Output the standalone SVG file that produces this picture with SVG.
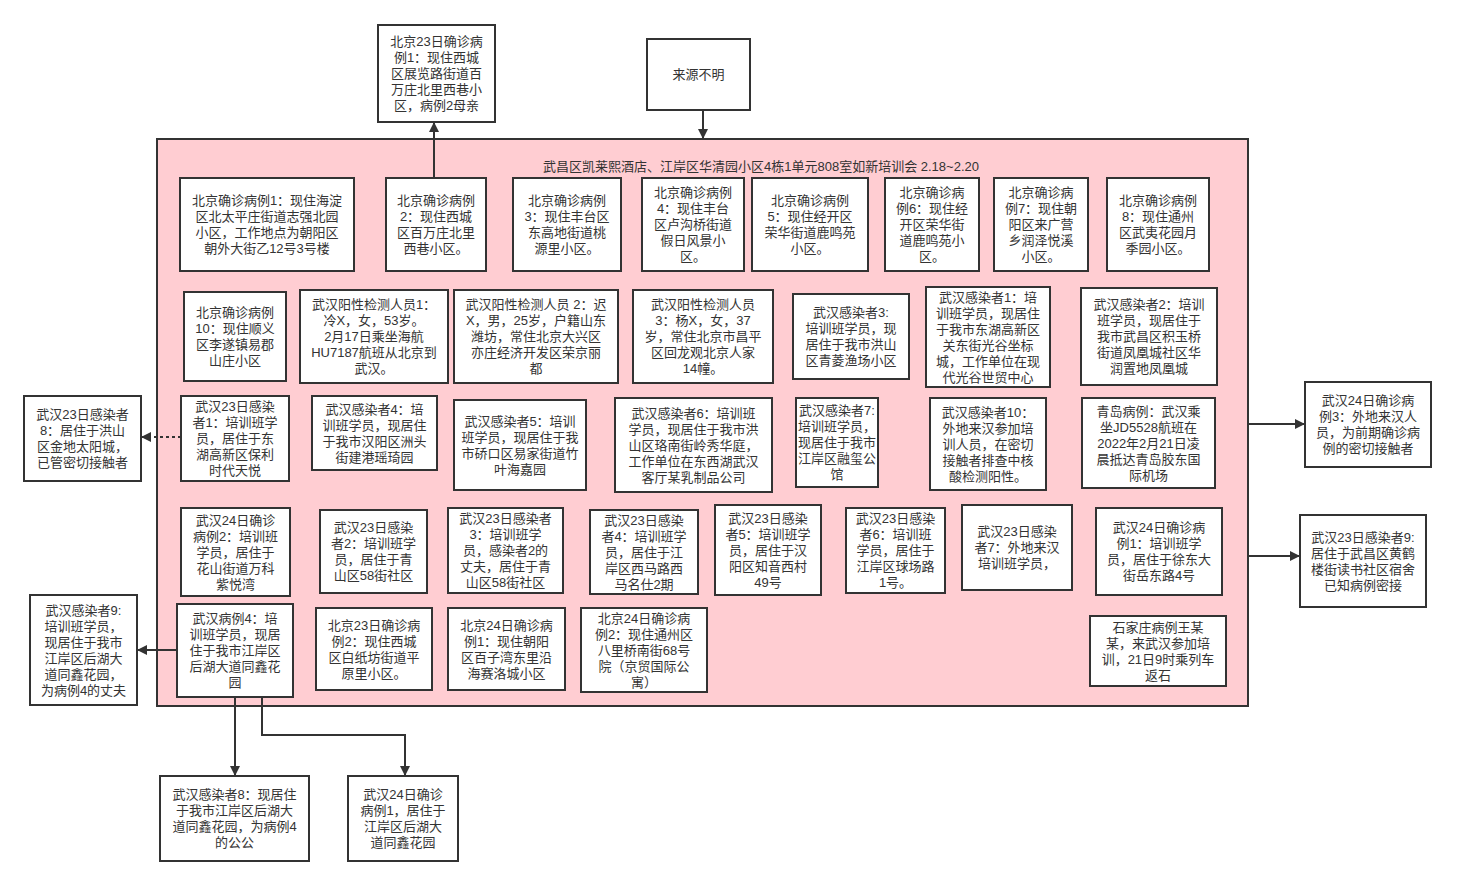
<svg xmlns="http://www.w3.org/2000/svg" width="1460" height="885" viewBox="0 0 1460 885">
<defs>
<style>
.b{fill:#fff;stroke:#333;stroke-width:2}
.c{fill:#FFCDD2;stroke:#333;stroke-width:2}
text{font-family:"Liberation Sans","Noto Sans CJK SC",sans-serif;font-size:13px;fill:#333;text-anchor:middle}
.t{text-anchor:start}
.e{fill:none;stroke:#333;stroke-width:2}
.d{stroke-dasharray:3 3}
</style>
<marker id="ah" viewBox="0 0 10 10" refX="9" refY="5" markerWidth="5" markerHeight="5" orient="auto" markerUnits="strokeWidth">
<path d="M0,0 L10,5 L0,10 Z" fill="#333"/>
</marker>
</defs>
<rect width="1460" height="885" fill="#fff"/>

<g id="container">
<rect class="c" x="157" y="139" width="1091" height="567"/>
<text class="t" x="543" y="171">武昌区凯莱熙酒店、江岸区华清园小区4栋1单元808室如新培训会 2.18~2.20</text>
</g>

<g id="connectors">
<line class="e" x1="434" y1="178" x2="434" y2="123" marker-end="url(#ah)"/>
<line class="e" x1="703" y1="110" x2="703" y2="138" marker-end="url(#ah)"/>
<line class="e d" x1="181" y1="437" x2="142" y2="437" marker-end="url(#ah)"/>
<line class="e" x1="1248" y1="424" x2="1304" y2="424" marker-end="url(#ah)"/>
<line class="e" x1="1248" y1="556" x2="1299" y2="556" marker-end="url(#ah)"/>
<line class="e" x1="177" y1="650" x2="138" y2="650" marker-end="url(#ah)"/>
<line class="e" x1="235" y1="697" x2="235" y2="775" marker-end="url(#ah)"/>
<polyline class="e" points="262,697 262,735 405,735 405,775" marker-end="url(#ah)"/>
</g>

<g id="t1"><rect class="b" x="378" y="25" width="117" height="97"/>
<text x="436.5" y="46"><tspan x="436.5">北京23日确诊病</tspan><tspan x="436.5" dy="16">例1：现住西城</tspan><tspan x="436.5" dy="16">区展览路街道百</tspan><tspan x="436.5" dy="16">万庄北里西巷小</tspan><tspan x="436.5" dy="16">区，病例2母亲</tspan></text></g>

<g id="t2"><rect class="b" x="647" y="39" width="103" height="71"/>
<text x="698.5" y="79">来源不明</text></g>

<g id="r1b1"><rect class="b" x="180" y="178" width="174" height="93"/>
<text x="267" y="205"><tspan x="267">北京确诊病例1：现住海淀</tspan><tspan x="267" dy="16">区北太平庄街道志强北园</tspan><tspan x="267" dy="16">小区，工作地点为朝阳区</tspan><tspan x="267" dy="16">朝外大街乙12号3号楼</tspan></text></g>

<g id="r1b2"><rect class="b" x="386" y="178" width="100" height="93"/>
<text x="436" y="205"><tspan x="436">北京确诊病例</tspan><tspan x="436" dy="16">2：现住西城</tspan><tspan x="436" dy="16">区百万庄北里</tspan><tspan x="436" dy="16">西巷小区。</tspan></text></g>

<g id="r1b3"><rect class="b" x="513" y="178" width="108" height="93"/>
<text x="567" y="205"><tspan x="567">北京确诊病例</tspan><tspan x="567" dy="16">3：现住丰台区</tspan><tspan x="567" dy="16">东高地街道桃</tspan><tspan x="567" dy="16">源里小区。</tspan></text></g>

<g id="r1b4"><rect class="b" x="642" y="178" width="102" height="93"/>
<text x="693" y="197"><tspan x="693">北京确诊病例</tspan><tspan x="693" dy="16">4：现住丰台</tspan><tspan x="693" dy="16">区卢沟桥街道</tspan><tspan x="693" dy="16">假日风景小</tspan><tspan x="693" dy="16">区。</tspan></text></g>

<g id="r1b5"><rect class="b" x="752" y="178" width="116" height="93"/>
<text x="810" y="205"><tspan x="810">北京确诊病例</tspan><tspan x="810" dy="16">5：现住经开区</tspan><tspan x="810" dy="16">荣华街道鹿鸣苑</tspan><tspan x="810" dy="16">小区。</tspan></text></g>

<g id="r1b6"><rect class="b" x="885" y="178" width="94" height="93"/>
<text x="932" y="197"><tspan x="932">北京确诊病</tspan><tspan x="932" dy="16">例6：现住经</tspan><tspan x="932" dy="16">开区荣华街</tspan><tspan x="932" dy="16">道鹿鸣苑小</tspan><tspan x="932" dy="16">区。</tspan></text></g>

<g id="r1b7"><rect class="b" x="994" y="178" width="94" height="93"/>
<text x="1041" y="197"><tspan x="1041">北京确诊病</tspan><tspan x="1041" dy="16">例7：现住朝</tspan><tspan x="1041" dy="16">阳区来广营</tspan><tspan x="1041" dy="16">乡润泽悦溪</tspan><tspan x="1041" dy="16">小区。</tspan></text></g>

<g id="r1b8"><rect class="b" x="1107" y="178" width="102" height="93"/>
<text x="1158" y="205"><tspan x="1158">北京确诊病例</tspan><tspan x="1158" dy="16">8：现住通州</tspan><tspan x="1158" dy="16">区武夷花园月</tspan><tspan x="1158" dy="16">季园小区。</tspan></text></g>

<g id="r2b1"><rect class="b" x="184" y="292" width="102" height="89"/>
<text x="235" y="317"><tspan x="235">北京确诊病例</tspan><tspan x="235" dy="16">10：现住顺义</tspan><tspan x="235" dy="16">区李遂镇易郡</tspan><tspan x="235" dy="16">山庄小区</tspan></text></g>

<g id="r2b2"><rect class="b" x="300" y="290" width="148" height="93"/>
<text x="374" y="309"><tspan x="374">武汉阳性检测人员1：</tspan><tspan x="374" dy="16">冷X，女，53岁。</tspan><tspan x="374" dy="16">2月17日乘坐海航</tspan><tspan x="374" dy="16">HU7187航班从北京到</tspan><tspan x="374" dy="16">武汉。</tspan></text></g>

<g id="r2b3"><rect class="b" x="454" y="290" width="164" height="93"/>
<text x="536" y="309"><tspan x="536">武汉阳性检测人员 2：迟</tspan><tspan x="536" dy="16">X，男，25岁，户籍山东</tspan><tspan x="536" dy="16">潍坊，常住北京大兴区</tspan><tspan x="536" dy="16">亦庄经济开发区荣京丽</tspan><tspan x="536" dy="16">都</tspan></text></g>

<g id="r2b4"><rect class="b" x="633" y="290" width="140" height="93"/>
<text x="703" y="309"><tspan x="703">武汉阳性检测人员</tspan><tspan x="703" dy="16">3：杨X，女，37</tspan><tspan x="703" dy="16">岁，常住北京市昌平</tspan><tspan x="703" dy="16">区回龙观北京人家</tspan><tspan x="703" dy="16">14幢。</tspan></text></g>

<g id="r2b5"><rect class="b" x="793" y="294" width="116" height="85"/>
<text x="851" y="317"><tspan x="851">武汉感染者3:</tspan><tspan x="851" dy="16">培训班学员，现</tspan><tspan x="851" dy="16">居住于我市洪山</tspan><tspan x="851" dy="16">区青菱渔场小区</tspan></text></g>

<g id="r2b6"><rect class="b" x="926" y="287" width="124" height="100"/>
<text x="988" y="301.5"><tspan x="988">武汉感染者1：培</tspan><tspan x="988" dy="16">训班学员，现居住</tspan><tspan x="988" dy="16">于我市东湖高新区</tspan><tspan x="988" dy="16">关东街光谷坐标</tspan><tspan x="988" dy="16">城，工作单位在现</tspan><tspan x="988" dy="16">代光谷世贸中心</tspan></text></g>

<g id="r2b7"><rect class="b" x="1081" y="288" width="136" height="97"/>
<text x="1149" y="309"><tspan x="1149">武汉感染者2：培训</tspan><tspan x="1149" dy="16">班学员，现居住于</tspan><tspan x="1149" dy="16">我市武昌区积玉桥</tspan><tspan x="1149" dy="16">街道凤凰城社区华</tspan><tspan x="1149" dy="16">润置地凤凰城</tspan></text></g>

<g id="l1"><rect class="b" x="24" y="396" width="117" height="85"/>
<text x="82.5" y="419"><tspan x="82.5">武汉23日感染者</tspan><tspan x="82.5" dy="16">8：居住于洪山</tspan><tspan x="82.5" dy="16">区金地太阳城，</tspan><tspan x="82.5" dy="16">已管密切接触者</tspan></text></g>

<g id="r3b1"><rect class="b" x="181" y="396" width="108" height="85"/>
<text x="235" y="411"><tspan x="235">武汉23日感染</tspan><tspan x="235" dy="16">者1：培训班学</tspan><tspan x="235" dy="16">员，居住于东</tspan><tspan x="235" dy="16">湖高新区保利</tspan><tspan x="235" dy="16">时代天悦</tspan></text></g>

<g id="r3b2"><rect class="b" x="312" y="396" width="125" height="74"/>
<text x="374.5" y="413.5"><tspan x="374.5">武汉感染者4：培</tspan><tspan x="374.5" dy="16">训班学员，现居住</tspan><tspan x="374.5" dy="16">于我市汉阳区洲头</tspan><tspan x="374.5" dy="16">街建港瑶琦园</tspan></text></g>

<g id="r3b3"><rect class="b" x="454" y="400" width="132" height="90"/>
<text x="520" y="425.5"><tspan x="520">武汉感染者5：培训</tspan><tspan x="520" dy="16">班学员，现居住于我</tspan><tspan x="520" dy="16">市硚口区易家街道竹</tspan><tspan x="520" dy="16">叶海嘉园</tspan></text></g>

<g id="r3b4"><rect class="b" x="615" y="398" width="157" height="94"/>
<text x="693.5" y="417.5"><tspan x="693.5">武汉感染者6：培训班</tspan><tspan x="693.5" dy="16">学员，现居住于我市洪</tspan><tspan x="693.5" dy="16">山区珞南街岭秀华庭，</tspan><tspan x="693.5" dy="16">工作单位在东西湖武汉</tspan><tspan x="693.5" dy="16">客厅某乳制品公司</tspan></text></g>

<g id="r3b5"><rect class="b" x="796" y="398" width="82" height="89"/>
<text x="837" y="415"><tspan x="837">武汉感染者7:</tspan><tspan x="837" dy="16">培训班学员，</tspan><tspan x="837" dy="16">现居住于我市</tspan><tspan x="837" dy="16">江岸区融玺公</tspan><tspan x="837" dy="16">馆</tspan></text></g>

<g id="r3b6"><rect class="b" x="930" y="398" width="116" height="92"/>
<text x="988" y="416.5"><tspan x="988">武汉感染者10：</tspan><tspan x="988" dy="16">外地来汉参加培</tspan><tspan x="988" dy="16">训人员，在密切</tspan><tspan x="988" dy="16">接触者排查中核</tspan><tspan x="988" dy="16">酸检测阳性。</tspan></text></g>

<g id="r3b7"><rect class="b" x="1082" y="398" width="133" height="90"/>
<text x="1148.5" y="415.5"><tspan x="1148.5">青岛病例：武汉乘</tspan><tspan x="1148.5" dy="16">坐JD5528航班在</tspan><tspan x="1148.5" dy="16">2022年2月21日凌</tspan><tspan x="1148.5" dy="16">晨抵达青岛胶东国</tspan><tspan x="1148.5" dy="16">际机场</tspan></text></g>

<g id="or1"><rect class="b" x="1305" y="382" width="126" height="85"/>
<text x="1368" y="405"><tspan x="1368">武汉24日确诊病</tspan><tspan x="1368" dy="16">例3：外地来汉人</tspan><tspan x="1368" dy="16">员，为前期确诊病</tspan><tspan x="1368" dy="16">例的密切接触者</tspan></text></g>

<g id="r4b1"><rect class="b" x="181" y="508" width="109" height="88"/>
<text x="235.5" y="524.5"><tspan x="235.5">武汉24日确诊</tspan><tspan x="235.5" dy="16">病例2：培训班</tspan><tspan x="235.5" dy="16">学员，居住于</tspan><tspan x="235.5" dy="16">花山街道万科</tspan><tspan x="235.5" dy="16">紫悦湾</tspan></text></g>

<g id="r4b2"><rect class="b" x="320" y="510" width="107" height="83"/>
<text x="373.5" y="532"><tspan x="373.5">武汉23日感染</tspan><tspan x="373.5" dy="16">者2：培训班学</tspan><tspan x="373.5" dy="16">员，居住于青</tspan><tspan x="373.5" dy="16">山区58街社区</tspan></text></g>

<g id="r4b3"><rect class="b" x="448" y="508" width="115" height="85"/>
<text x="505.5" y="523"><tspan x="505.5">武汉23日感染者</tspan><tspan x="505.5" dy="16">3：培训班学</tspan><tspan x="505.5" dy="16">员，感染者2的</tspan><tspan x="505.5" dy="16">丈夫，居住于青</tspan><tspan x="505.5" dy="16">山区58街社区</tspan></text></g>

<g id="r4b4"><rect class="b" x="590" y="510" width="108" height="84"/>
<text x="644" y="524.5"><tspan x="644">武汉23日感染</tspan><tspan x="644" dy="16">者4：培训班学</tspan><tspan x="644" dy="16">员，居住于江</tspan><tspan x="644" dy="16">岸区西马路西</tspan><tspan x="644" dy="16">马名仕2期</tspan></text></g>

<g id="r4b5"><rect class="b" x="715" y="505" width="106" height="90"/>
<text x="768" y="522.5"><tspan x="768">武汉23日感染</tspan><tspan x="768" dy="16">者5：培训班学</tspan><tspan x="768" dy="16">员，居住于汉</tspan><tspan x="768" dy="16">阳区知音西村</tspan><tspan x="768" dy="16">49号</tspan></text></g>

<g id="r4b6"><rect class="b" x="846" y="508" width="99" height="85"/>
<text x="895.5" y="523"><tspan x="895.5">武汉23日感染</tspan><tspan x="895.5" dy="16">者6：培训班</tspan><tspan x="895.5" dy="16">学员，居住于</tspan><tspan x="895.5" dy="16">江岸区球场路</tspan><tspan x="895.5" dy="16">1号。</tspan></text></g>

<g id="r4b7"><rect class="b" x="962" y="505" width="110" height="85"/>
<text x="1017" y="536"><tspan x="1017">武汉23日感染</tspan><tspan x="1017" dy="16">者7：外地来汉</tspan><tspan x="1017" dy="16">培训班学员，</tspan></text></g>

<g id="r4b8"><rect class="b" x="1096" y="508" width="126" height="87"/>
<text x="1159" y="532"><tspan x="1159">武汉24日确诊病</tspan><tspan x="1159" dy="16">例1：培训班学</tspan><tspan x="1159" dy="16">员，居住于徐东大</tspan><tspan x="1159" dy="16">街岳东路4号</tspan></text></g>

<g id="or2"><rect class="b" x="1300" y="515" width="126" height="92"/>
<text x="1363" y="541.5"><tspan x="1363">武汉23日感染者9:</tspan><tspan x="1363" dy="16">居住于武昌区黄鹤</tspan><tspan x="1363" dy="16">楼街读书社区宿舍</tspan><tspan x="1363" dy="16">已知病例密接</tspan></text></g>

<g id="l2"><rect class="b" x="30" y="595" width="107" height="110"/>
<text x="83.5" y="614.5"><tspan x="83.5">武汉感染者9:</tspan><tspan x="83.5" dy="16">培训班学员，</tspan><tspan x="83.5" dy="16">现居住于我市</tspan><tspan x="83.5" dy="16">江岸区后湖大</tspan><tspan x="83.5" dy="16">道同鑫花园，</tspan><tspan x="83.5" dy="16">为病例4的丈夫</tspan></text></g>

<g id="r5b1"><rect class="b" x="177" y="604" width="116" height="93"/>
<text x="235" y="623"><tspan x="235">武汉病例4：培</tspan><tspan x="235" dy="16">训班学员，现居</tspan><tspan x="235" dy="16">住于我市江岸区</tspan><tspan x="235" dy="16">后湖大道同鑫花</tspan><tspan x="235" dy="16">园</tspan></text></g>

<g id="r5b2"><rect class="b" x="316" y="608" width="116" height="82"/>
<text x="374" y="629.5"><tspan x="374">北京23日确诊病</tspan><tspan x="374" dy="16">例2：现住西城</tspan><tspan x="374" dy="16">区白纸坊街道平</tspan><tspan x="374" dy="16">原里小区。</tspan></text></g>

<g id="r5b3"><rect class="b" x="448" y="608" width="117" height="82"/>
<text x="506.5" y="629.5"><tspan x="506.5">北京24日确诊病</tspan><tspan x="506.5" dy="16">例1：现住朝阳</tspan><tspan x="506.5" dy="16">区百子湾东里沿</tspan><tspan x="506.5" dy="16">海赛洛城小区</tspan></text></g>

<g id="r5b4"><rect class="b" x="581" y="608" width="126" height="84"/>
<text x="644" y="622.5"><tspan x="644">北京24日确诊病</tspan><tspan x="644" dy="16">例2：现住通州区</tspan><tspan x="644" dy="16">八里桥南街68号</tspan><tspan x="644" dy="16">院（京贸国际公</tspan><tspan x="644" dy="16">寓）</tspan></text></g>

<g id="r5b5"><rect class="b" x="1090" y="616" width="136" height="70"/>
<text x="1158" y="631.5"><tspan x="1158">石家庄病例王某</tspan><tspan x="1158" dy="16">某，来武汉参加培</tspan><tspan x="1158" dy="16">训，21日9时乘列车</tspan><tspan x="1158" dy="16">返石</tspan></text></g>

<g id="b1"><rect class="b" x="160" y="776" width="149" height="85"/>
<text x="234.5" y="799"><tspan x="234.5">武汉感染者8：现居住</tspan><tspan x="234.5" dy="16">于我市江岸区后湖大</tspan><tspan x="234.5" dy="16">道同鑫花园，为病例4</tspan><tspan x="234.5" dy="16">的公公</tspan></text></g>

<g id="b2"><rect class="b" x="348" y="776" width="110" height="85"/>
<text x="403" y="799"><tspan x="403">武汉24日确诊</tspan><tspan x="403" dy="16">病例1，居住于</tspan><tspan x="403" dy="16">江岸区后湖大</tspan><tspan x="403" dy="16">道同鑫花园</tspan></text></g>
</svg>
